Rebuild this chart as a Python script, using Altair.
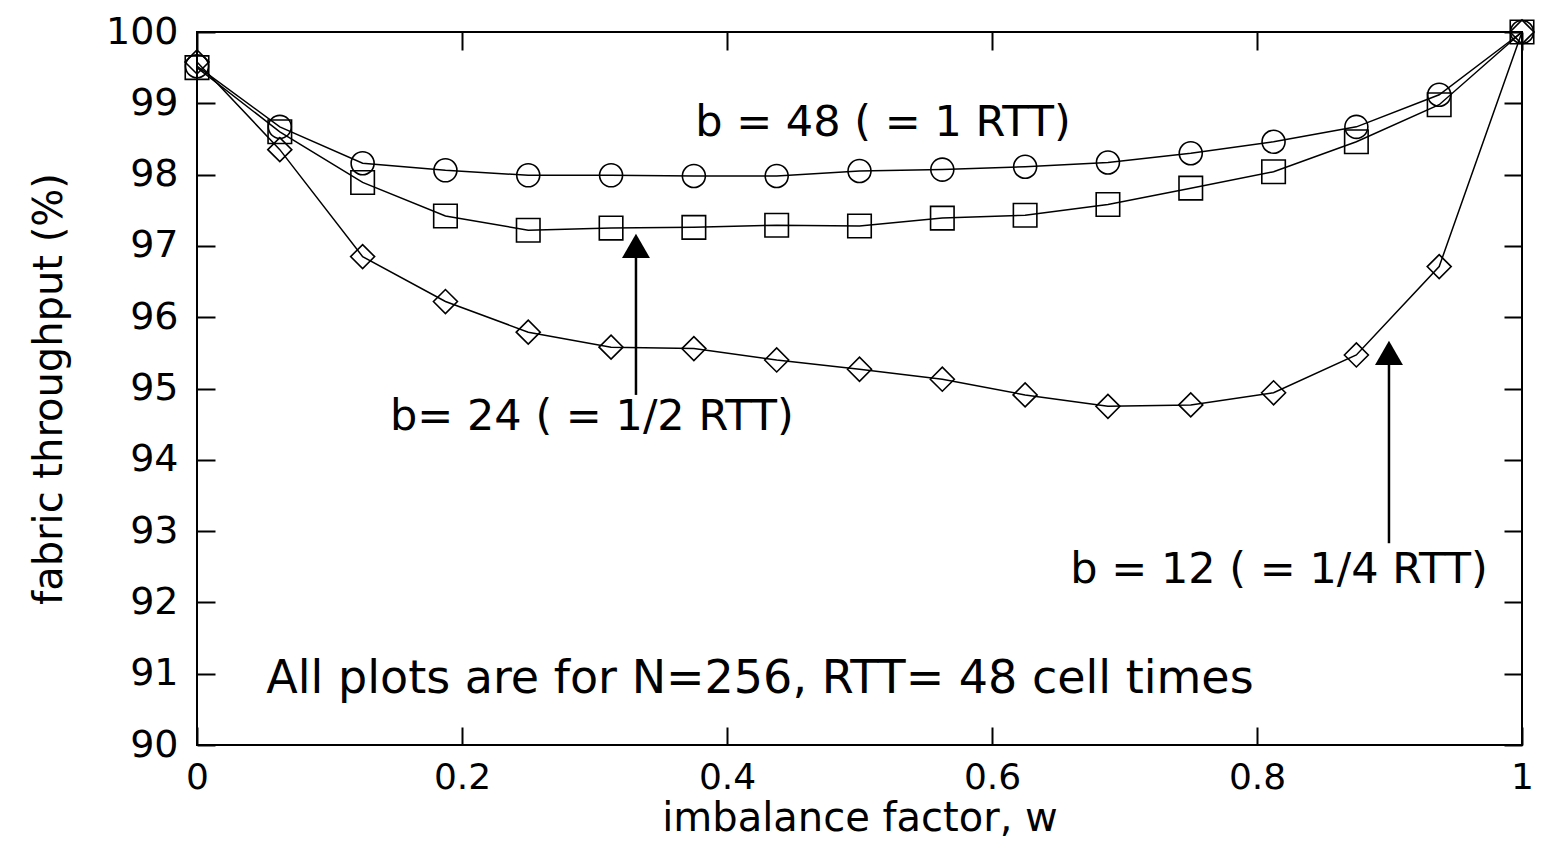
import altair as alt
import pandas as pd

# ---- data ----
w_values = [0, 0.0625, 0.125, 0.1875, 0.25, 0.3125, 0.375, 0.4375, 0.5,
            0.5625, 0.625, 0.6875, 0.75, 0.8125, 0.875, 0.9375, 1.0]
b48 = [99.52, 98.67, 98.16, 98.06, 97.99, 97.99, 97.98, 97.98, 98.05,
       98.07, 98.11, 98.17, 98.30, 98.46, 98.67, 99.12, 100.0]
b24 = [99.50, 98.60, 97.89, 97.42, 97.22, 97.25, 97.26, 97.29, 97.28,
       97.39, 97.43, 97.58, 97.81, 98.04, 98.46, 98.98, 100.0]
b12 = [99.58, 98.35, 96.85, 96.22, 95.79, 95.58, 95.56, 95.40, 95.27,
       95.13, 94.91, 94.75, 94.77, 94.94, 95.47, 96.71, 100.0]
series_names = ["b = 48", "b = 24", "b = 12"]

x_ticks = [0, 0.2, 0.4, 0.6, 0.8, 1]
y_ticks = [90, 91, 92, 93, 94, 95, 96, 97, 98, 99, 100]

arrow_x = [0.3313, 0.8996]
arrow_y_tip = [97.0, 95.5]
arrow_y_tail = [94.91, 92.83]

note_text = ["b = 48 ( = 1 RTT)", "b= 24 ( = 1/2 RTT)", "b = 12 ( = 1/4 RTT)",
             "All plots are for N=256, RTT= 48 cell times"]
note_x = [0.5177, 0.298, 0.8166, 0.4249]
note_y = [98.54, 94.42, 92.27, 90.73]
note_size = [43, 43, 43, 46]

# ---- tables ----
rows = []
for name, vals in zip(series_names, [b48, b24, b12]):
    for w, v in zip(w_values, vals):
        rows.append({"w": w, "thr": v, "series": name})
df = pd.DataFrame(rows)
arrows = pd.DataFrame({"x": arrow_x, "tip": arrow_y_tip, "tail": arrow_y_tail})
notes = pd.DataFrame({"x": note_x, "y": note_y, "text": note_text, "fs": note_size})

FONT = "DejaVu Sans"
xscale = alt.Scale(domain=[0, 1], nice=False, zero=False)
yscale = alt.Scale(domain=[90, 100], nice=False, zero=False)

x_bottom = alt.X("w:Q", scale=xscale, axis=alt.Axis(
    orient="bottom", values=x_ticks, format="~g", offset=-18, tickSize=18,
    tickWidth=2, tickColor="black", domain=False, grid=False,
    labelFont=FONT, labelFontSize=36, labelColor="black", labelPadding=15,
    labelFlush=False, labelOverlap=False,
    title="imbalance factor, w", titleFont=FONT, titleFontSize=40,
    titleFontWeight="normal", titleColor="black", titlePadding=3))
y_left = alt.Y("thr:Q", scale=yscale, axis=alt.Axis(
    orient="left", values=y_ticks, offset=-18, tickSize=18, tickWidth=2,
    tickColor="black", domain=False, grid=False,
    labelFont=FONT, labelFontSize=38, labelColor="black", labelPadding=19,
    labelOverlap=False,
    title="fabric throughput (%)", titleFont=FONT, titleFontSize=40,
    titleFontWeight="normal", titleColor="black", titlePadding=36))

x_top = alt.X("w:Q", scale=xscale, axis=alt.Axis(
    orient="top", values=x_ticks, offset=-18, tickSize=18, tickWidth=2,
    tickColor="black", domain=False, grid=False, labels=False, title=None))
y_right = alt.Y("thr:Q", scale=yscale, axis=alt.Axis(
    orient="right", values=y_ticks, offset=-18, tickSize=18, tickWidth=2,
    tickColor="black", domain=False, grid=False, labels=False, title=None))

lines = alt.Chart(df).mark_line(color="black", strokeWidth=1.5).encode(
    x=x_bottom, y=y_left, detail="series:N")

points = alt.Chart(df).mark_point(filled=False, color="black", strokeWidth=1.6, opacity=1).encode(
    x=x_top, y=y_right,
    shape=alt.Shape("series:N", scale=alt.Scale(domain=series_names,
                    range=["circle", "square", "diamond"]), legend=None),
    size=alt.Size("series:N", scale=alt.Scale(domain=series_names,
                  range=[529, 576, 900]), legend=None))

rule = alt.Chart(arrows).mark_rule(color="black", strokeWidth=2.5).encode(
    x=alt.X("x:Q", scale=xscale, axis=None),
    y=alt.Y("tip:Q", scale=yscale, axis=None),
    y2="tail:Q")

heads = alt.Chart(arrows).mark_point(shape="triangle-up", filled=True, color="black",
                                     size=780, opacity=1).encode(
    x=alt.X("x:Q", scale=xscale, axis=None),
    y=alt.Y("tip:Q", scale=yscale, axis=None))

text = alt.Chart(notes).mark_text(font=FONT, color="black",
                                  align="center", baseline="alphabetic").encode(
    x=alt.X("x:Q", scale=xscale, axis=None),
    y=alt.Y("y:Q", scale=yscale, axis=None),
    size=alt.Size("fs:Q", scale=None, legend=None),
    text="text:N")

chart = alt.layer(lines, points, rule, heads, text).resolve_axis(
    x="independent", y="independent"
).resolve_scale(size="independent").properties(
    width=1325, height=713,
    autosize=alt.AutoSizeParams(type="none"),
    padding={"left": 189, "top": 24, "right": 22, "bottom": 100},
    background="white",
).configure_view(stroke="black", strokeWidth=2)

chart.save("out.html", embed_options={"renderer": "svg", "actions": False})
